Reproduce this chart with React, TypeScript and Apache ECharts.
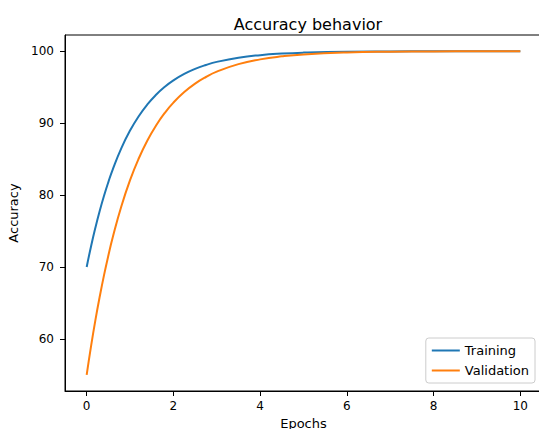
import React, { useEffect, useRef } from "react";
import * as echarts from "echarts";

const epochs = [0, 0.1, 0.2, 0.3, 0.4, 0.5, 0.6, 0.8, 1.0, 1.2, 1.4, 1.6, 1.8, 2.0, 2.25, 2.5, 2.75, 3.0, 3.5, 4, 4.5, 5, 6, 7, 8, 9, 10];
const training = [70.0, 72.85, 75.44, 77.78, 79.89, 81.8, 83.54, 86.52, 88.96, 90.96, 92.6, 93.94, 95.04, 95.94, 96.84, 97.54, 98.08, 98.51, 99.09, 99.45, 99.67, 99.8, 99.93, 99.97, 99.99, 100.0, 100.0];
const validation = [55.0, 58.95, 62.56, 65.85, 68.86, 71.59, 74.09, 78.44, 82.07, 85.08, 87.59, 89.67, 91.41, 92.85, 94.32, 95.49, 96.41, 97.15, 98.2, 98.86, 99.28, 99.55, 99.82, 99.93, 99.97, 99.99, 100.0];
const xTicks = [0, 2, 4, 6, 8, 10];
const yTicks = [60, 70, 80, 90, 100];
const seriesNames = ["Training", "Validation"];

const FONT = "DejaVu Sans";

export default function App() {
  const ref = useRef<HTMLDivElement>(null);
  useEffect(() => {
    if (!ref.current) return;
    const chart = echarts.init(ref.current, null, { renderer: "svg" });
    const toPairs = (ys: number[]) => epochs.map((x, i) => [x, ys[i]]);
    chart.setOption({
      animation: false,
      backgroundColor: "#ffffff",
      textStyle: { fontFamily: FONT },
      title: {
        text: "Accuracy behavior",
        left: 303,
        top: 11,
        textAlign: "center",
        textStyle: { fontFamily: FONT, fontSize: 16, fontWeight: "normal", color: "#000" },
      },
      grid: {
        left: 65,
        top: 35,
        width: 477,
        height: 356,
        outerBoundsMode: "none",
        containLabel: false,
        show: true,
        borderColor: "#000",
        borderWidth: 1,
        backgroundColor: "transparent",
      },
      legend: {
        data: seriesNames,
        orient: "vertical",
        right: 4,
        top: 338,
        icon: "rect",
        itemWidth: 28,
        itemHeight: 2,
        itemGap: 7,
        padding: [6, 6, 6, 6],
        backgroundColor: "rgba(255,255,255,0.8)",
        borderColor: "#cccccc",
        borderWidth: 1,
        borderRadius: 3,
        textStyle: { fontFamily: FONT, fontSize: 13, color: "#000" },
      },
      xAxis: {
        type: "value",
        min: -0.5,
        max: 10.5,
        name: "Epochs",
        nameLocation: "middle",
        nameGap: 26,
        nameTextStyle: { fontFamily: FONT, fontSize: 13, color: "#000" },
        axisLine: { show: true, onZero: false, lineStyle: { color: "#000", width: 1 } },
        axisTick: { show: true, customValues: xTicks, length: 5, lineStyle: { color: "#000" } },
        axisLabel: { customValues: xTicks, margin: 9, fontFamily: FONT, fontSize: 12, color: "#000" },
        splitLine: { show: false },
      },
      yAxis: {
        type: "value",
        min: 52.75,
        max: 102.25,
        name: "Accuracy",
        nameLocation: "middle",
        nameGap: 42,
        nameTextStyle: { fontFamily: FONT, fontSize: 13, color: "#000" },
        axisLine: { show: true, onZero: false, lineStyle: { color: "#000", width: 1 } },
        axisTick: { show: true, customValues: yTicks, length: 5, lineStyle: { color: "#000" } },
        axisLabel: { customValues: yTicks, margin: 11, fontFamily: FONT, fontSize: 12, color: "#000" },
        splitLine: { show: false },
      },
      series: [
        {
          name: seriesNames[0],
          type: "line",
          data: toPairs(training),
          smooth: true,
          showSymbol: false,
          lineStyle: { color: "#1f77b4", width: 2 },
          itemStyle: { color: "#1f77b4" },
        },
        {
          name: seriesNames[1],
          type: "line",
          data: toPairs(validation),
          smooth: true,
          showSymbol: false,
          lineStyle: { color: "#ff7f0e", width: 2 },
          itemStyle: { color: "#ff7f0e" },
        },
      ],
    });
    return () => chart.dispose();
  }, []);
  return <div ref={ref} style={{ position: "fixed", left: 0, top: 0, width: 539, height: 429 }} />;
}
